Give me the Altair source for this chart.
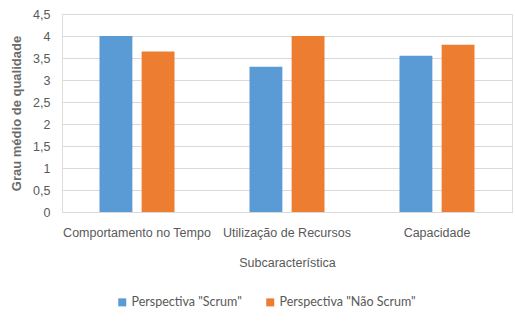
import altair as alt
import pandas as pd

# Average quality score per sub-characteristic, by perspective
categorias = ["Comportamento no Tempo", "Utilização de Recursos", "Capacidade"]
scrum = [4.0, 3.3, 3.55]
nao_scrum = [3.65, 4.0, 3.8]
series = ['Perspectiva "Scrum"', 'Perspectiva "Não Scrum"']
y_ticks = [0, 0.5, 1, 1.5, 2, 2.5, 3, 3.5, 4, 4.5]

rows = []
for c, a, b in zip(categorias, scrum, nao_scrum):
    rows.append({"Subcaracterística": c, "Perspectiva": series[0], "Valor": a})
    rows.append({"Subcaracterística": c, "Perspectiva": series[1], "Valor": b})
df = pd.DataFrame(rows)

FONT = "Lato"
GRAY = "#595959"

chart = (
    alt.Chart(df)
    .mark_bar()
    .encode(
        x=alt.X(
            "Subcaracterística:N",
            sort=categorias,
            scale=alt.Scale(paddingInner=0.5, paddingOuter=0.25),
            axis=alt.Axis(
                title="Subcaracterística",
                labelAngle=0,
                ticks=False,
                domain=False,
                labelPadding=14,
                titlePadding=18,
                labelFontSize=12.5,
                titleFontSize=12.5,
                titleFontWeight="normal",
                labelColor=GRAY,
                titleColor=GRAY,
            ),
        ),
        xOffset=alt.XOffset(
            "Perspectiva:N",
            sort=series,
            scale=alt.Scale(paddingInner=0.22, paddingOuter=0),
        ),
        y=alt.Y(
            "Valor:Q",
            scale=alt.Scale(domain=[0, 4.5], nice=False),
            axis=alt.Axis(
                title="Grau médio de qualidade",
                values=y_ticks,
                labelExpr="replace(toString(datum.value), '.', ',')",
                ticks=False,
                domain=False,
                labelPadding=12,
                titlePadding=9,
                labelFontSize=12.5,
                titleFontSize=13,
                titleFontWeight="bold",
                labelColor=GRAY,
                titleColor="#6b6b6b",
                gridColor="#D9D9D9",
                gridWidth=1,
            ),
        ),
        color=alt.Color(
            "Perspectiva:N",
            sort=series,
            scale=alt.Scale(domain=series, range=["#5B9BD5", "#ED7D31"]),
            legend=alt.Legend(
                title=None,
                orient="none",
                direction="horizontal",
                legendX=54,
                legendY=282,
                symbolType="square",
                symbolSize=64,
                symbolStrokeWidth=0,
                labelFontSize=12.5,
                labelColor=GRAY,
                labelFont=FONT,
                columnPadding=22,
                labelOffset=3,
            ),
        ),
    )
    .properties(
        width=450,
        height=198,
        autosize=alt.AutoSizeParams(type="none"),
        padding={"left": 62, "top": 14, "right": 3, "bottom": 111},
    )
    .configure_view(stroke=None)
    .configure_axis(labelFont=FONT, titleFont=FONT)
    .configure(background="white")
)

chart.save("out.html", embed_options={"renderer": "svg", "actions": False})
